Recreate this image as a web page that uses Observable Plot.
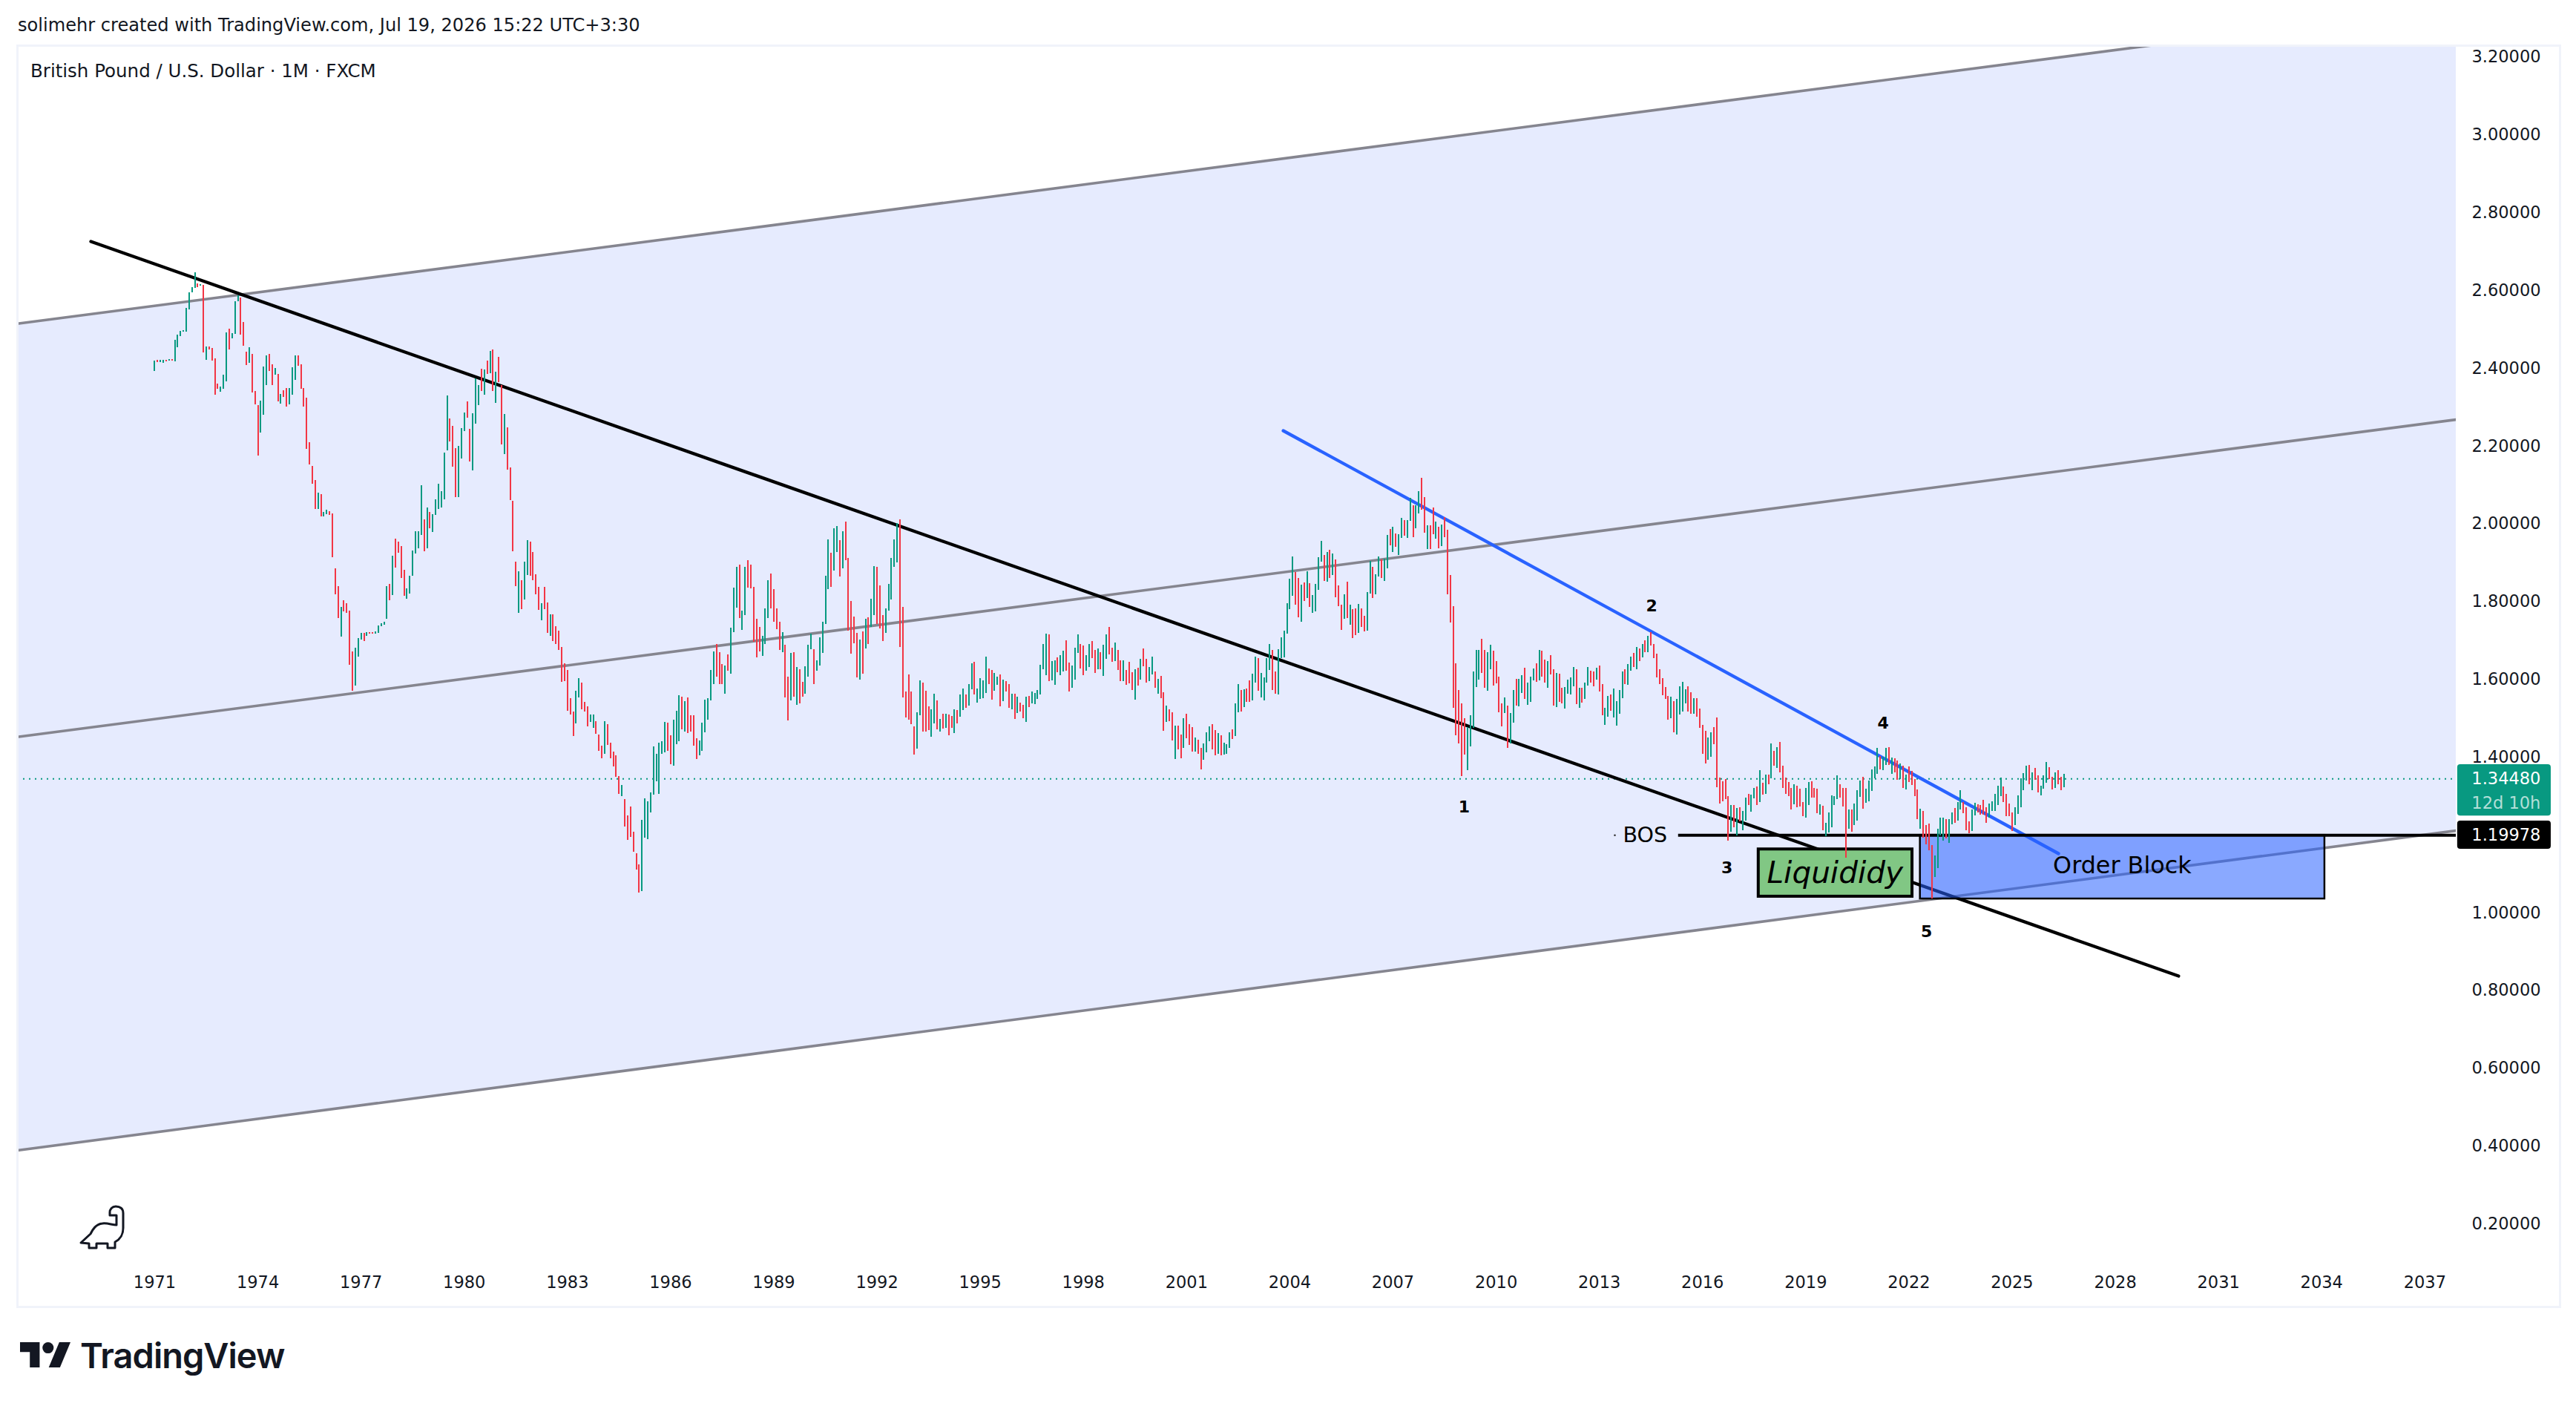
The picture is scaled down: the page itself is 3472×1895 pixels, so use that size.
<!DOCTYPE html>
<html>
<head>
<meta charset="utf-8">
<script src="https://cdn.jsdelivr.net/npm/d3@7"></script>
<script src="https://cdn.jsdelivr.net/npm/@observablehq/plot@0.6"></script>
<style>
html,body{margin:0;padding:0;background:#fff;}
#root{position:relative;width:3472px;height:1895px;overflow:hidden;font-family:"DejaVu Sans",sans-serif;color:#131722;}
#root svg.plot{position:absolute;left:0;top:0;}
.abs{position:absolute;white-space:nowrap;}
</style>
</head>
<body>
<div id="root">
  <div class="abs" style="left:22px;top:60px;width:3424px;height:1697px;border:3px solid #f0f3fa;box-sizing:content-box;"></div>
  <div class="abs" id="byline" style="left:24px;top:20px;font-size:24.1px;line-height:28px;">solimehr created with TradingView.com, Jul 19, 2026 15:22 UTC+3:30</div>
  <div class="abs" id="symbol" style="left:41px;top:82px;font-size:24.5px;line-height:28px;">British Pound / U.S. Dollar · 1M · FXCM</div>
  <div class="abs" id="brand" style="left:108px;top:1797px;font-family:Inter,sans-serif;font-weight:600;font-size:47px;line-height:60px;letter-spacing:-1px;">TradingView</div>
</div>
<script>
// Monthly GBP/USD bars, January 1971 onward, twelve per row
const barHigh = [
2.419,2.421,2.421,2.421,2.421,2.423,2.423,2.473,2.486,2.495,2.497,2.555,
2.595,2.608,2.646,2.618,2.616,2.614,2.455,2.455,2.452,2.425,2.360,2.352,
2.383,2.492,2.501,2.490,2.572,2.587,2.581,2.518,2.442,2.453,2.436,2.341,
2.305,2.316,2.404,2.432,2.436,2.410,2.400,2.385,2.333,2.343,2.349,2.349,
2.402,2.432,2.432,2.410,2.349,2.324,2.209,2.148,2.112,2.080,2.076,2.030,
2.036,2.032,2.026,1.885,1.839,1.786,1.803,1.795,1.777,1.672,1.680,1.706,
1.719,1.719,1.721,1.721,1.721,1.723,1.738,1.744,1.748,1.839,1.845,1.917,
1.961,1.954,1.942,1.881,1.833,1.866,1.931,1.980,1.980,2.099,2.011,2.041,
2.030,2.024,2.062,2.102,2.083,2.183,2.329,2.270,2.251,2.194,2.200,2.246,
2.286,2.314,2.244,2.284,2.373,2.356,2.398,2.396,2.419,2.444,2.448,2.391,
2.429,2.356,2.282,2.247,2.144,2.058,1.902,1.877,1.854,1.902,1.957,1.954,
1.927,1.870,1.837,1.795,1.837,1.797,1.767,1.767,1.736,1.725,1.683,1.641,
1.624,1.551,1.517,1.570,1.603,1.591,1.542,1.530,1.509,1.509,1.492,1.458,
1.429,1.492,1.484,1.437,1.414,1.404,1.351,1.328,1.292,1.250,1.273,1.208,
1.152,1.124,1.238,1.293,1.286,1.309,1.427,1.408,1.437,1.440,1.490,1.488,
1.456,1.496,1.519,1.559,1.555,1.543,1.553,1.507,1.507,1.448,1.442,1.488,
1.547,1.551,1.624,1.671,1.690,1.669,1.639,1.635,1.664,1.732,1.835,1.889,
1.895,1.776,1.889,1.906,1.895,1.837,1.755,1.734,1.711,1.782,1.854,1.872,
1.832,1.782,1.748,1.721,1.688,1.606,1.667,1.669,1.631,1.626,1.593,1.633,
1.688,1.717,1.677,1.648,1.708,1.748,1.866,1.959,1.925,1.988,1.994,1.957,
1.980,2.005,1.912,1.801,1.761,1.719,1.702,1.723,1.755,1.759,1.807,1.891,
1.889,1.841,1.765,1.782,1.845,1.912,1.959,2.001,2.011,1.786,1.568,1.612,
1.568,1.479,1.515,1.597,1.591,1.570,1.530,1.522,1.563,1.545,1.498,1.511,
1.511,1.509,1.505,1.522,1.520,1.561,1.576,1.561,1.587,1.641,1.645,1.576,
1.603,1.597,1.658,1.627,1.624,1.616,1.606,1.612,1.599,1.595,1.587,1.563,
1.563,1.555,1.540,1.534,1.555,1.557,1.568,1.564,1.572,1.637,1.690,1.717,
1.715,1.646,1.648,1.656,1.662,1.673,1.700,1.643,1.635,1.681,1.715,1.690,
1.687,1.662,1.690,1.698,1.675,1.679,1.669,1.688,1.715,1.734,1.681,1.694,
1.675,1.648,1.648,1.624,1.645,1.618,1.625,1.629,1.652,1.679,1.652,1.631,
1.658,1.620,1.601,1.608,1.566,1.532,1.522,1.515,1.481,1.481,1.458,1.500,
1.511,1.484,1.477,1.450,1.444,1.423,1.435,1.463,1.479,1.484,1.469,1.461,
1.456,1.437,1.433,1.463,1.471,1.538,1.587,1.572,1.574,1.576,1.597,1.614,
1.658,1.654,1.616,1.604,1.654,1.690,1.675,1.620,1.677,1.707,1.725,1.795,
1.858,1.916,1.875,1.860,1.843,1.849,1.877,1.847,1.816,1.845,1.914,1.956,
1.919,1.927,1.933,1.923,1.908,1.841,1.791,1.818,1.851,1.791,1.780,1.782,
1.793,1.782,1.763,1.824,1.904,1.889,1.870,1.916,1.908,1.910,1.971,1.986,
1.992,1.975,1.973,2.015,2.009,2.009,2.066,2.047,2.047,2.083,2.118,2.068,
1.996,1.996,2.041,2.005,1.992,1.998,2.017,1.984,1.868,1.788,1.641,1.572,
1.538,1.500,1.477,1.507,1.620,1.675,1.675,1.704,1.675,1.669,1.688,1.673,
1.646,1.606,1.538,1.553,1.532,1.513,1.572,1.601,1.601,1.610,1.629,1.591,
1.606,1.627,1.641,1.675,1.673,1.650,1.646,1.662,1.625,1.616,1.614,1.578,
1.580,1.599,1.604,1.631,1.625,1.578,1.578,1.591,1.631,1.622,1.620,1.629,
1.635,1.587,1.526,1.557,1.561,1.576,1.543,1.572,1.620,1.625,1.639,1.658,
1.667,1.683,1.679,1.690,1.700,1.711,1.721,1.690,1.666,1.625,1.603,1.580,
1.557,1.555,1.543,1.549,1.582,1.593,1.574,1.582,1.566,1.551,1.551,1.524,
1.482,1.467,1.451,1.464,1.477,1.502,1.348,1.337,1.344,1.299,1.277,1.277,
1.268,1.271,1.262,1.295,1.305,1.303,1.321,1.324,1.366,1.334,1.355,1.355,
1.435,1.415,1.425,1.438,1.378,1.347,1.336,1.321,1.330,1.326,1.318,1.284,
1.321,1.335,1.338,1.321,1.318,1.278,1.275,1.231,1.258,1.301,1.299,1.352,
1.329,1.320,1.320,1.265,1.265,1.281,1.315,1.339,1.349,1.318,1.339,1.368,
1.376,1.423,1.402,1.400,1.423,1.425,1.399,1.397,1.391,1.383,1.378,1.355,
1.376,1.364,1.343,1.316,1.267,1.261,1.225,1.229,1.173,1.147,1.215,1.244,
1.244,1.240,1.240,1.257,1.269,1.284,1.315,1.284,1.271,1.234,1.265,1.282,
1.278,1.276,1.290,1.271,1.280,1.286,1.305,1.326,1.347,1.324,1.305,1.280,
1.257,1.271,1.301,1.345,1.358,1.378,1.380,1.360,1.372,1.353,1.326,1.353,
1.387,1.374,1.349,1.360,1.366,1.349,1.357
];
const barLow = [
2.392,2.415,2.415,2.413,2.417,2.420,2.420,2.417,2.453,2.482,2.494,2.494,
2.551,2.595,2.606,2.608,2.612,2.440,2.421,2.448,2.419,2.331,2.347,2.339,
2.347,2.366,2.448,2.476,2.488,2.572,2.486,2.457,2.408,2.413,2.337,2.307,
2.175,2.234,2.280,2.356,2.392,2.356,2.383,2.314,2.308,2.326,2.301,2.307,
2.331,2.370,2.406,2.347,2.301,2.192,2.152,2.102,2.038,2.038,2.018,2.018,
2.024,2.022,1.914,1.818,1.757,1.709,1.774,1.770,1.638,1.570,1.584,1.658,
1.702,1.698,1.711,1.717,1.717,1.717,1.719,1.736,1.740,1.755,1.803,1.816,
1.887,1.925,1.860,1.814,1.807,1.820,1.866,1.923,1.936,1.971,1.929,1.936,
1.988,1.978,2.022,2.038,2.041,2.062,2.188,2.211,2.146,2.068,2.068,2.167,
2.238,2.272,2.160,2.137,2.257,2.305,2.341,2.331,2.385,2.387,2.341,2.310,
2.364,2.204,2.179,2.139,2.060,1.929,1.839,1.770,1.780,1.805,1.868,1.866,
1.854,1.818,1.778,1.751,1.780,1.719,1.711,1.698,1.690,1.675,1.593,1.595,
1.519,1.509,1.454,1.486,1.553,1.522,1.517,1.479,1.490,1.475,1.460,1.416,
1.397,1.408,1.431,1.397,1.376,1.349,1.305,1.299,1.221,1.187,1.194,1.156,
1.110,1.051,1.055,1.192,1.189,1.257,1.303,1.337,1.305,1.408,1.412,1.416,
1.381,1.377,1.433,1.440,1.471,1.465,1.461,1.465,1.429,1.395,1.404,1.416,
1.463,1.496,1.545,1.587,1.606,1.587,1.587,1.563,1.622,1.614,1.721,1.784,
1.757,1.727,1.765,1.835,1.833,1.696,1.656,1.671,1.660,1.690,1.757,1.782,
1.748,1.729,1.675,1.669,1.553,1.494,1.545,1.555,1.534,1.538,1.555,1.563,
1.606,1.677,1.587,1.622,1.635,1.667,1.742,1.832,1.837,1.879,1.927,1.864,
1.885,1.906,1.725,1.666,1.692,1.605,1.599,1.614,1.679,1.690,1.734,1.765,
1.742,1.730,1.698,1.719,1.776,1.805,1.889,1.900,1.683,1.553,1.501,1.496,
1.484,1.406,1.421,1.507,1.465,1.465,1.469,1.452,1.486,1.471,1.465,1.473,
1.475,1.456,1.475,1.461,1.486,1.503,1.521,1.526,1.532,1.574,1.561,1.540,
1.549,1.551,1.564,1.587,1.547,1.570,1.585,1.530,1.543,1.568,1.526,1.522,
1.498,1.513,1.517,1.500,1.490,1.528,1.538,1.536,1.549,1.561,1.625,1.610,
1.595,1.597,1.585,1.618,1.610,1.620,1.622,1.568,1.578,1.599,1.667,1.627,
1.610,1.622,1.631,1.654,1.616,1.626,1.626,1.608,1.652,1.664,1.645,1.646,
1.624,1.595,1.595,1.585,1.589,1.572,1.547,1.584,1.599,1.633,1.591,1.595,
1.612,1.578,1.563,1.551,1.467,1.490,1.492,1.442,1.395,1.419,1.397,1.423,
1.448,1.431,1.414,1.414,1.408,1.368,1.393,1.412,1.440,1.419,1.404,1.408,
1.404,1.406,1.408,1.423,1.446,1.454,1.515,1.517,1.528,1.542,1.542,1.545,
1.591,1.570,1.553,1.545,1.591,1.624,1.572,1.563,1.561,1.654,1.656,1.717,
1.780,1.814,1.791,1.759,1.748,1.801,1.809,1.786,1.771,1.774,1.830,1.902,
1.853,1.851,1.860,1.868,1.811,1.788,1.727,1.755,1.757,1.740,1.706,1.713,
1.719,1.734,1.723,1.725,1.820,1.809,1.818,1.864,1.860,1.853,1.885,1.944,
1.927,1.940,1.919,1.963,1.969,1.963,2.007,1.965,1.988,2.026,2.036,1.977,
1.935,1.935,1.973,1.961,1.937,1.942,1.965,1.818,1.746,1.526,1.456,1.435,
1.351,1.406,1.366,1.427,1.475,1.580,1.599,1.616,1.578,1.570,1.625,1.584,
1.589,1.515,1.479,1.513,1.423,1.435,1.488,1.532,1.530,1.564,1.549,1.534,
1.542,1.597,1.593,1.597,1.606,1.591,1.578,1.612,1.532,1.528,1.541,1.538,
1.524,1.563,1.561,1.582,1.536,1.526,1.540,1.549,1.584,1.591,1.582,1.599,
1.568,1.507,1.482,1.503,1.519,1.501,1.480,1.511,1.551,1.587,1.585,1.622,
1.631,1.625,1.646,1.656,1.669,1.669,1.687,1.654,1.605,1.587,1.559,1.549,
1.496,1.500,1.463,1.458,1.509,1.517,1.538,1.517,1.511,1.511,1.503,1.474,
1.408,1.384,1.393,1.400,1.433,1.323,1.280,1.287,1.292,1.184,1.208,1.220,
1.199,1.234,1.211,1.237,1.277,1.259,1.293,1.277,1.284,1.303,1.306,1.330,
1.346,1.377,1.371,1.361,1.320,1.305,1.300,1.266,1.279,1.270,1.272,1.248,
1.244,1.277,1.296,1.296,1.256,1.251,1.212,1.196,1.205,1.220,1.277,1.291,
1.295,1.273,1.141,1.216,1.208,1.225,1.236,1.297,1.267,1.282,1.286,1.313,
1.345,1.357,1.368,1.366,1.379,1.379,1.357,1.360,1.341,1.343,1.320,1.317,
1.336,1.328,1.299,1.240,1.215,1.192,1.175,1.160,1.036,1.091,1.114,1.198,
1.185,1.191,1.179,1.227,1.231,1.236,1.265,1.255,1.211,1.204,1.210,1.250,
1.257,1.252,1.252,1.231,1.244,1.261,1.261,1.276,1.299,1.284,1.248,1.248,
1.210,1.225,1.253,1.271,1.315,1.339,1.330,1.315,1.341,1.309,1.301,1.318,
1.334,1.343,1.316,1.320,1.330,1.315,1.322
];
// G = closed up, R = closed down; one string per calendar year
const barDirection = [
"GRGGRGRGGGGG","GGGRGRGRRRRG","GGRGGGRRRGRR","RGGGRRGRGRRG","GGRRRRRRRGRG","GRRRRGRRRRGG",
"GRGRRGGGGGRG","RRRRGGGGGGRG","RGGGGGGRRRGG","GRRGGGRGRGRG","RRGRRRRGRGGR","RRRGRRGRRRRR",
"RRRGGRRRGGRR","RGRRRRRGRRRR","RRGGGGGGGGGR","RGGGRGRRRRGG","GGGGRRRGRGGG","RGGRRRRRGGGR",
"RRRGRRGRGRRG","GGRGGGGGRGGR","GRRRRRGRGRGG","RRRGGGGGRRRR","RRGGRRRGGRGR","GRRGRGGRGGRG",
"GGGRRGGRGRRG","RGRRGRGGGGGG","RGGRGGRRGGGR","RGGRRGRGGRRG","RRGRRRGRGRRG","GRGRRGRRGRRG",
"RRRGRRGGGRRG","RGGGRGGRGRRG","GRGGGGRRGGGG","GGRRGRGRGGGG","RGRGRRRGRGRR","GRRGGRGGRGGR",
"GRGGRGGRGGRR","GRRGRGRRRRRR","RRGGGGGRRGGR","RRRGRGGRGGRG","GGRGRRGRRGRR","GGGGRGRGGRRG",
"RRGGRGGGGRGG","RGRGRGRRRRRR","RGRGGGGRRGRR","RRGGRRRRRRGR","GRGGRGGRGRGR","GRGRRRRRGRRR",
"GGRRRGRGGGGG","RRRGRGGGRGGG","GGRGGRGRRGRG","RRRRGRRRRGGG","GRGGRGGRRRGG","RRRRGGGGGRRR",
"RGGGGGRGRRGG","GRRGRRG"
];
const yearTicks = d3.range(1971, 2038, 3);
const priceTicks = [0.2,0.4,0.6,0.8,1.0,1.2,1.4,1.6,1.8,2.0,2.2,2.4,2.6,2.8,3.0,3.2];
const lastPrice = 1.3448;
const levelPrice = 1.19978;

// channel rails, read as [year, price] at the ends of each rail
const channelYears = [1967.01, 2037.91];
const channelTop = [2.515, 3.333];
const channelMiddle = [1.4524, 2.2685];
const channelBottom = [0.3895, 1.2116];

const blackTrendYears = [1969.145, 2029.84];
const blackTrendPrices = [2.7263, 0.8377];
const blueTrendYears = [2003.81, 2026.35];
const blueTrendPrices = [2.2399, 1.1525];

const waveLabels = ["1","2","3","4","5"];
const waveYears = [2009.07, 2014.52, 2016.71, 2021.25, 2022.51];
const wavePrices = [1.2727, 1.7883, 1.1163, 1.4883, 0.9509];

const dirs = barDirection.join("");
const bars = barHigh.map((h, i) => ({year: 1971 + i / 12, high: h, low: barLow[i], dir: dirs[i]}));

const GREEN = "#089981", RED = "#f23645", GREY = "#85858f", INK = "#131722";
const FONT = "DejaVu Sans";
const channelRows = channelYears.map((year, i) => ({year, top: channelTop[i], middle: channelMiddle[i], bottom: channelBottom[i]}));
const trendRows = (ys, ps) => ys.map((year, i) => ({year, price: ps[i]}));

const chart = Plot.plot({
  width: 3472, height: 1895,
  marginLeft: 23, marginRight: 162, marginTop: 61, marginBottom: 197,
  style: {background: "transparent", fontFamily: FONT, overflow: "visible"},
  x: {domain: [1967.01, 2037.91], axis: null},
  y: {domain: [0.1071, 3.23], axis: null},
  marks: [
    Plot.areaY(channelRows, {x: "year", y1: "bottom", y2: "top", fill: "#e6ebfe", clip: true}),
    ...["top", "middle", "bottom"].map(k => Plot.line(channelRows, {x: "year", y: k, stroke: GREY, strokeWidth: 3.6, clip: true})),
    Plot.ruleY([lastPrice], {stroke: GREEN, strokeWidth: 2, strokeDasharray: "2,6", clip: true}),
    Plot.line(trendRows(blackTrendYears, blackTrendPrices), {x: "year", y: "price", stroke: "#000", strokeWidth: 4.3, strokeLinecap: "round"}),
    Plot.line(trendRows(blueTrendYears, blueTrendPrices), {x: "year", y: "price", stroke: "#2962ff", strokeWidth: 4.3, strokeLinecap: "round"}),
    Plot.rect([{x1: 2022.33, x2: 2034.09, y1: levelPrice, y2: 1.0361}], {x1: "x1", x2: "x2", y1: "y1", y2: "y2", fill: "#2962ff", fillOpacity: 0.55, stroke: "#000", strokeWidth: 2.5}),
    Plot.rect([{x1: 2017.63, x2: 2022.1, y1: 1.1635, y2: 1.042}], {x1: "x1", x2: "x2", y1: "y1", y2: "y2", fill: "#81c784", stroke: "#000", strokeWidth: 4}),
    Plot.ruleY([levelPrice], {x1: 2015.3, x2: 2037.91, stroke: "#000", strokeWidth: 3.8}),
    Plot.ruleX(bars, {x: "year", y1: "low", y2: "high", stroke: d => d.dir === "G" ? GREEN : RED, strokeWidth: 2, shapeRendering: "crispEdges"}),
    Plot.dot([levelPrice], {x: 2013.45, y: d => d, r: 1.3, fill: "#333"}),
    Plot.text(waveLabels, {x: (d, i) => waveYears[i], y: (d, i) => wavePrices[i], text: d => d, fill: "#000", fontSize: 22, fontWeight: 600}),
    Plot.text(["BOS"], {x: 2014.33, y: levelPrice, text: d => d, fill: "#000", fontSize: 28.5}),
    Plot.text(["Order Block"], {x: 2028.2, y: 1.122, text: d => d, fill: "#000", fontSize: 31.8}),
    Plot.text(["Liquididy"], {x: 2019.85, y: 1.1029, text: d => d, fill: "#000", fontSize: 40.6, fontStyle: "italic"}),
    Plot.axisX({ticks: yearTicks, tickFormat: d => String(d), tickSize: 0, tickPadding: 22, fontSize: 22.5, fill: INK, label: null}),
    Plot.axisY({anchor: "right", ticks: priceTicks, tickFormat: d3.format(".5f"), tickSize: 0, tickPadding: 21, fontSize: 22.5, fill: INK, label: null}),
    Plot.rect([{x1: 2037.95, x2: 2040.67, y1: 1.3814, y2: 1.2492}], {x1: "x1", x2: "x2", y1: "y1", y2: "y2", fill: GREEN, rx: 4}),
    Plot.rect([{x1: 2037.95, x2: 2040.67, y1: 1.2364, y2: 1.1639}], {x1: "x1", x2: "x2", y1: "y1", y2: "y2", fill: "#000", rx: 4}),
    Plot.text([d3.format(".5f")(lastPrice)], {x: 2038.36, y: lastPrice, text: d => d, fill: "#fff", fontSize: 22.5, textAnchor: "start"}),
    Plot.text(["12d 10h"], {x: 2038.36, y: 1.2822, text: d => d, fill: "#fff", fillOpacity: 0.7, fontSize: 22.5, textAnchor: "start"}),
    Plot.text([d3.format(".5f")(levelPrice)], {x: 2038.36, y: levelPrice, text: d => d, fill: "#fff", fontSize: 22.5, textAnchor: "start"})
  ]
});
document.getElementById("root").appendChild(chart);

// dinosaur glyph and brand mark
const ns = "http://www.w3.org/2000/svg";
function icon(left, top, w, h, vb, inner) {
  const s = document.createElementNS(ns, "svg");
  s.setAttribute("width", w); s.setAttribute("height", h); s.setAttribute("viewBox", vb);
  s.style.cssText = `position:absolute;left:${left}px;top:${top}px;overflow:visible`;
  s.innerHTML = inner;
  document.getElementById("root").appendChild(s);
}
icon(107, 1625, 60, 58, "0 0 60 58",
  '<path d="M49 1C44 1 41 5 41 9L41 13L50 13L50 26C44 26 38 23 31 24C22 25 18 32 15 38L2 50L13 51L13 57L23 57L23 51L38 51L38 57L48 57L48 49C55 45 59 40 59 30L59 10C59 4 55 1 49 1Z" fill="#fff" stroke="#131722" stroke-width="3" stroke-linejoin="round"/>');
icon(27, 1809, 68, 34, "0 6 36 18",
  '<path d="M14 6H0v7h7v11h7V6z" fill="#131722"/><circle cx="20" cy="10" r="4" fill="#131722"/><path d="M28.5 24h-8L28 6h8l-7.5 18z" fill="#131722"/>');
</script>
</body>
</html>
